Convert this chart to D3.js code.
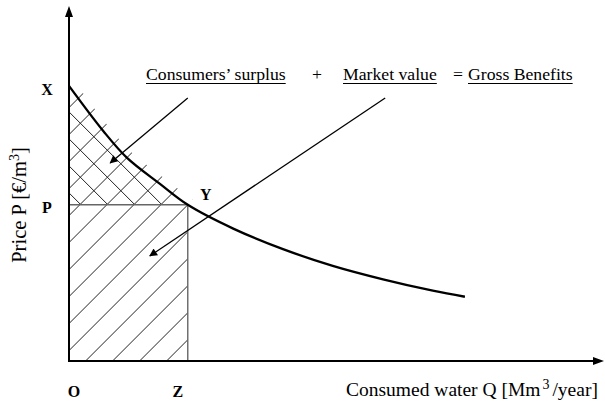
<!DOCTYPE html>
<html>
<head>
<meta charset="utf-8">
<script src="https://cdn.jsdelivr.net/npm/d3@7"></script>
<style>
  html, body { margin: 0; padding: 0; background: #fff; }
  svg { display: block; font-family: "Liberation Serif", "Times New Roman", serif; }
</style>
</head>
<body>
<svg id="chart" width="605" height="402"></svg>
<script>
// demand curve (abstract units, 0..100 on each axis)
const qCurve = [0, 6.4, 10.8, 17.0, 22.2, 30.7, 40.0, 49.3, 58.7, 68.0, 74.0];
const pCurve = [77.5, 64.8, 57.3, 49.9, 44.0, 37.3, 31.5, 26.8, 23.0, 19.8, 18.1];

// market price and consumed quantity at point Y
const priceP = 44.0;
const quantityZ = 22.2;

// pointer arrows: [fromQ, fromP, toQ, toP]
const arrowCS = [22.2, 74.1, 7.7, 55.8];
const arrowMV = [59.1, 74.1, 15.1, 29.6];

const headerParts = ['Consumers\u2019 surplus', '+', 'Market value', '=', 'Gross Benefits'];
const underlined = [true, false, true, false, true];

const svg = d3.select('#chart');

const x = d3.scaleLinear().domain([0, 100]).range([69, 604]);
const y = d3.scaleLinear().domain([0, 100]).range([361, 6]);

const pts = qCurve.map((q, i) => [q, pCurve[i]]);
const line = d3.line().x(d => x(d[0])).y(d => y(d[1])).curve(d3.curveCatmullRom);

const defs = svg.append('defs');

// filled arrowhead for the pointers
defs.append('marker')
  .attr('id', 'head').attr('viewBox', '0 0 10 10')
  .attr('refX', 9).attr('refY', 5)
  .attr('markerWidth', 10).attr('markerHeight', 8)
  .attr('markerUnits', 'userSpaceOnUse')
  .attr('orient', 'auto')
  .append('path').attr('d', 'M0,0 L10,5 L0,10 Z').attr('fill', '#000');

// --- clip regions for the hatching -----------------------------------
const csPts = pts.filter(d => d[0] <= quantityZ);
const csPath = line(csPts) + `L${x(quantityZ)},${y(priceP)}L${x(0)},${y(priceP)}Z`;

defs.append('clipPath').attr('id', 'clip-cs')
  .append('path').attr('d', csPath);

// the "/" strokes run a little past the curve in the original
const clipMV = defs.append('clipPath').attr('id', 'clip-mv');
clipMV.append('rect')
  .attr('x', x(0)).attr('y', y(priceP))
  .attr('width', x(quantityZ) - x(0)).attr('height', y(0) - y(priceP));
clipMV.append('path')
  .attr('d', csPath)
  .attr('transform', 'translate(5,-5)');
clipMV.append('path').attr('d', csPath);

const gap = 27;
const cornerC = x(quantityZ) + y(priceP);   // "/" line passing through Y
const fwd = d3.range(-12, 14).map(k => cornerC + k * gap);
const back = d3.range(-10, 14).map(k => (y(77.5) - x(0)) + 26 + k * gap);

svg.append('g').attr('clip-path', 'url(#clip-mv)')
  .selectAll('line').data(fwd).join('line')
  .attr('x1', c => c - 450).attr('y1', 450)
  .attr('x2', c => c).attr('y2', 0)
  .attr('stroke', '#222').attr('stroke-width', 1);

svg.append('g').attr('clip-path', 'url(#clip-cs)')
  .selectAll('line').data(back).join('line')
  .attr('x1', 0).attr('y1', d => d)
  .attr('x2', 450).attr('y2', d => d + 450)
  .attr('stroke', '#222').attr('stroke-width', 1);

// price line P and quantity line Z
svg.append('line')
  .attr('x1', x(0)).attr('x2', x(quantityZ))
  .attr('y1', y(priceP)).attr('y2', y(priceP))
  .attr('stroke', '#666').attr('stroke-width', 1.4);
svg.append('line')
  .attr('x1', x(quantityZ)).attr('x2', x(quantityZ))
  .attr('y1', y(priceP)).attr('y2', y(0))
  .attr('stroke', '#666').attr('stroke-width', 1.4);

// demand curve
svg.append('path').attr('d', line(pts))
  .attr('fill', 'none').attr('stroke', '#000').attr('stroke-width', 2.3);

// axes with arrow tips
svg.append('line')
  .attr('x1', x(0)).attr('y1', y(0)).attr('x2', x(0)).attr('y2', y(100) + 8)
  .attr('stroke', '#000').attr('stroke-width', 2);
svg.append('path')
  .attr('d', `M${x(0)},${y(100)} L${x(0) - 4},${y(100) + 11} L${x(0) + 4},${y(100) + 11} Z`)
  .attr('fill', '#000');
svg.append('line')
  .attr('x1', x(0) - 1).attr('y1', y(0)).attr('x2', x(100) - 8).attr('y2', y(0))
  .attr('stroke', '#000').attr('stroke-width', 2);
svg.append('path')
  .attr('d', `M${x(100)},${y(0)} L${x(100) - 11},${y(0) - 4} L${x(100) - 11},${y(0) + 4} Z`)
  .attr('fill', '#000');

// pointer arrows
[arrowCS, arrowMV].forEach(a => {
  svg.append('line')
    .attr('x1', x(a[0])).attr('y1', y(a[1]))
    .attr('x2', x(a[2])).attr('y2', y(a[3]))
    .attr('stroke', '#000').attr('stroke-width', 1.3)
    .attr('marker-end', 'url(#head)');
});

// point letters
const letters = [
  { t: 'X', px: 47, py: y(pCurve[0]) + 9 },
  { t: 'P', px: 47, py: y(priceP) + 8 },
  { t: 'Y', px: x(quantityZ) + 18, py: y(priceP) - 5 },
  { t: 'O', px: x(0) + 5, py: 397 },
  { t: 'Z', px: x(quantityZ) - 10, py: 397 },
];
svg.append('g').selectAll('text').data(letters).join('text')
  .attr('x', d => d.px).attr('y', d => d.py)
  .attr('text-anchor', 'middle')
  .attr('font-weight', 'bold').attr('font-size', 16)
  .text(d => d.t);

// header sentence
const headerX = [146, 312, 343, 453, 468];
const head = svg.append('g').attr('font-size', 17.7);
headerParts.forEach((s, i) => {
  const t = head.append('text').attr('x', headerX[i]).attr('y', 80).text(s);
  if (underlined[i]) {
    const w = t.node().getComputedTextLength();
    head.append('line')
      .attr('x1', headerX[i]).attr('x2', headerX[i] + w)
      .attr('y1', 83.5).attr('y2', 83.5)
      .attr('stroke', '#000').attr('stroke-width', 1);
  }
});

// axis titles
const xt = svg.append('text').attr('x', 346).attr('y', 396).attr('font-size', 19.5);
xt.append('tspan').text('Consumed water Q [Mm');
xt.append('tspan').attr('dx', 2).attr('dy', -7).attr('font-size', 14).text('3');
xt.append('tspan').attr('dx', 3).attr('dy', 7).text('/year]');

const yt = svg.append('text')
  .attr('transform', 'translate(26,205) rotate(-90)')
  .attr('text-anchor', 'middle').attr('font-size', 20.5);
yt.append('tspan').text('Price P [\u20AC/m');
yt.append('tspan').attr('dy', -7).attr('font-size', 14).text('3');
yt.append('tspan').attr('dy', 7).text(']');
</script>
</body>
</html>
